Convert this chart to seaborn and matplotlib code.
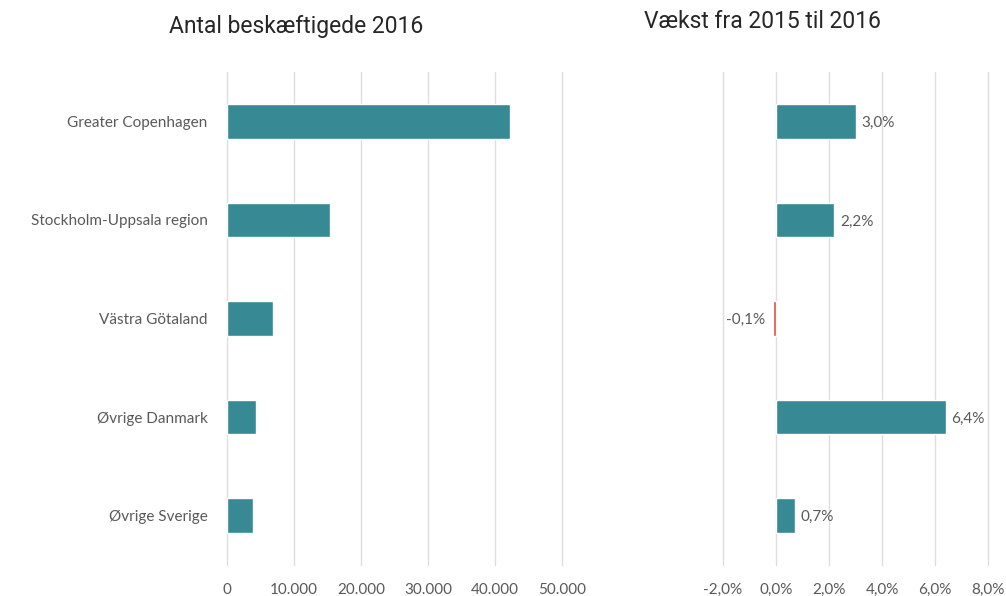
import matplotlib
matplotlib.use("Agg")
import matplotlib.pyplot as plt
import seaborn as sns
import pandas as pd
from matplotlib.ticker import FuncFormatter

regions = ["Greater Copenhagen", "Stockholm-Uppsala region", "Västra Götaland",
           "Øvrige Danmark", "Øvrige Sverige"]
employed_2016 = [42300, 15400, 6800, 4300, 3900]
growth_pct = [3.0, 2.2, -0.1, 6.4, 0.7]
growth_labels = ["3,0%", "2,2%", "-0,1%", "6,4%", "0,7%"]

left_ticks = [0, 10000, 20000, 30000, 40000, 50000]
right_ticks = [-2, 0, 2, 4, 6, 8]

TEAL = "#378A94"
RED = "#E8473C"
GRID = "#DEDEDE"
TXT = "#595959"

sns.set_theme(style="white")
plt.rcParams['font.family'] = ['Lato', 'DejaVu Sans']

df = pd.DataFrame({"region": regions, "emp": employed_2016, "growth": growth_pct})

fig = plt.figure(figsize=(10.06, 5.96), dpi=100)
W, H = 1006, 596
bottom = (H - 565) / H
top = (H - 72) / H
ax1 = fig.add_axes([227 / W, bottom, (562 - 227) / W, top - bottom])
ax2 = fig.add_axes([723 / W, bottom, (988 - 723) / W, top - bottom])

sns.barplot(data=df, y="region", x="emp", hue="region", palette=[TEAL] * 5,
            legend=False, width=0.35, ax=ax1, saturation=1)
colors2 = [RED if g < 0 else TEAL for g in growth_pct]
sns.barplot(data=df, y="region", x="growth", hue="region", palette=colors2,
            legend=False, width=0.35, ax=ax2, saturation=1)

ax1.set_xlim(0, 50000)
ax1.set_xticks(left_ticks)
ax1.xaxis.set_major_formatter(FuncFormatter(lambda v, p: f"{int(v):,}".replace(",", ".")))
ax2.set_xlim(-2, 8)
ax2.set_xticks(right_ticks)
ax2.xaxis.set_major_formatter(FuncFormatter(lambda v, p: f"{v:.1f}%".replace(".", ",")))

for ax in (ax1, ax2):
    ax.set_ylim(4.5, -0.5)
    ax.set_xlabel("")
    ax.set_ylabel("")
    for s in ax.spines.values():
        s.set_visible(False)
    ax.grid(axis="x", color=GRID, linewidth=1)
    ax.set_axisbelow(True)
    ax.tick_params(axis="x", length=0, pad=13, labelsize=11, labelcolor=TXT)
    ax.tick_params(axis="y", length=0, labelsize=11, labelcolor=TXT)

ax1.tick_params(axis="y", pad=14)
ax2.set_yticks(range(5))
ax2.set_yticklabels([])

for i, (g, lab) in enumerate(zip(growth_pct, growth_labels)):
    if g >= 0:
        ax2.annotate(lab, (g, i), xytext=(4, 0), textcoords="offset points",
                     ha="left", va="center_baseline", fontsize=11, color=TXT)
    else:
        ax2.annotate(lab, (g, i), xytext=(-6, 0), textcoords="offset points",
                     ha="right", va="center_baseline", fontsize=11, color=TXT)

fig.text(296 / W, 1 - 26 / H, "Antal beskæftigede 2016", ha="center", va="center",
         fontsize=16.5, color="#262626", family=["Roboto", "DejaVu Sans"])
fig.text(762 / W, 1 - 22 / H, "Vækst fra 2015 til 2016", ha="center", va="center",
         fontsize=16.5, color="#262626", family=["Roboto", "DejaVu Sans"])

fig.canvas.draw()
for ax in (ax1, ax2):
    for gl in ax.xaxis.get_gridlines():
        gl.set_clip_on(False)

fig.savefig("out.png", dpi=100, facecolor="white")
